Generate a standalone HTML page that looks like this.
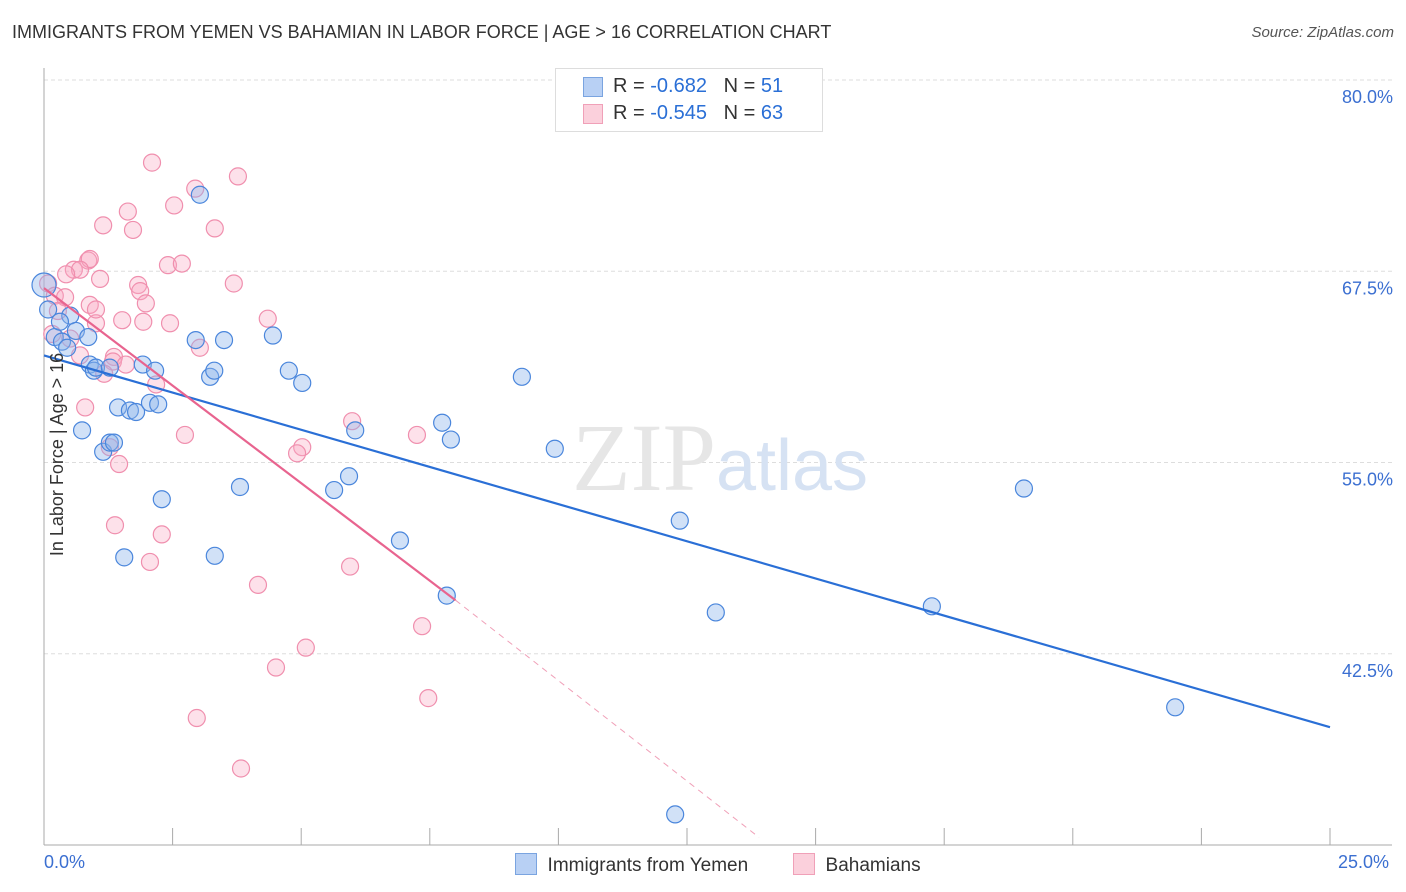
<!DOCTYPE html>
<html><head><meta charset="utf-8"><style>
body{margin:0;background:#fff;font-family:"Liberation Sans",sans-serif;}
#wrap{position:relative;width:1406px;height:892px;overflow:hidden;}
.t{position:absolute;white-space:nowrap;}
</style></head><body>
<div id="wrap">
<div class="t" style="left:12px;top:22px;font-size:18px;color:#333;">IMMIGRANTS FROM YEMEN VS BAHAMIAN IN LABOR FORCE | AGE &gt; 16 CORRELATION CHART</div>
<div class="t" style="right:12px;top:24px;font-size:15px;color:#555;font-style:italic;">Source: ZipAtlas.com</div>
<svg id="plot" width="1406" height="892" style="position:absolute;left:0;top:0"></svg>
</div>
<script>
const yemenX=[0,0.21,0.35,0.45,0.51,0.62,0.74,0.89,0.97,1.01,1.15,1.28,1.36,1.44,1.56,1.67,1.79,1.92,2.06,2.16,2.22,2.29,2.95,3.03,3.23,3.31,3.32,3.81,4.45,4.76,5.02,5.64,5.93,6.05,6.92,7.74,7.83,7.91,9.29,9.93,12.36,13.06,17.26,19.05,21.99,12.27,3.5,1.28,0.31,0.86,0.08];
const yemenY=[66.6,63.2,62.9,62.5,64.6,63.6,57.1,61.4,61.0,61.2,55.7,56.3,56.3,58.6,48.8,58.4,58.3,61.4,58.9,61.0,58.8,52.6,63.0,72.5,60.6,61.0,48.9,53.4,63.3,61.0,60.2,53.2,54.1,57.1,49.9,57.6,46.3,56.5,60.6,55.9,51.2,45.2,45.6,53.3,39.0,32.0,63.0,61.2,64.2,63.2,65.0];
const bahX=[2.10,3.77,2.94,2.53,1.63,1.15,3.32,1.73,2.41,2.68,0.86,0.89,0.58,0.70,1.09,0.43,3.69,1.83,1.87,0.08,0.21,0.41,0.89,1.98,1.52,1.93,1.01,2.45,4.35,0.27,3.03,1.36,1.34,1.59,1.17,2.18,0.80,5.99,2.74,7.25,5.02,4.92,1.46,1.38,2.29,2.06,5.95,4.16,7.35,5.09,4.51,7.47,2.97,3.83,0.70,0.16,0.51,1.28,1.01];
const bahY=[74.6,73.7,72.9,71.8,71.4,70.5,70.3,70.2,67.9,68.0,68.2,68.3,67.6,67.6,67.0,67.3,66.7,66.6,66.2,66.7,65.9,65.8,65.3,65.4,64.3,64.2,64.1,64.1,64.4,64.9,62.5,61.9,61.6,61.4,60.8,60.1,58.6,57.7,56.8,56.8,56.0,55.6,54.9,50.9,50.3,48.5,48.2,47.0,44.3,42.9,41.6,39.6,38.3,35.0,62.0,63.4,63.1,56.0,65.0];
const yTicks=[80,67.5,55,42.5];
const yTickLabels=["80.0%","67.5%","55.0%","42.5%"];
const xTicks=[0,2.5,5,7.5,10,12.5,15,17.5,20,22.5,25];
const blueTrend=[[0,62.0],[25,37.7]];
const pinkTrend=[[0,66.4],[8,46.0]];
const pinkDash=[[8,46.0],[13.9,30.5]];
const NS="http://www.w3.org/2000/svg";
const svg=document.getElementById('plot');
const X=v=>44+v*51.44, Y=v=>80+(80-v)*15.3;
function mk(tag,a){const e=document.createElementNS(NS,tag);for(const k in a)e.setAttribute(k,a[k]);svg.appendChild(e);return e;}
yTicks.forEach((t,i)=>{
 const g=mk('line',{x1:44,x2:1392,y1:Y(t),y2:Y(t),stroke:'#ddd','stroke-dasharray':'4,3'});
 
 
 const l=mk('text',{x:1393,y:Y(t)+23,'text-anchor':'end','font-size':18,fill:'#3b6fd1','font-family':'Liberation Sans'});
 l.textContent=yTickLabels[i];
 
 
});
const ax=mk('line',{x1:44,x2:44,y1:68,y2:845,stroke:'#aaa'});


const bx=mk('line',{x1:44,x2:1392,y1:845,y2:845,stroke:'#aaa'});


xTicks.forEach(t=>{const k=mk('line',{x1:X(t),x2:X(t),y1:828,y2:845,stroke:'#aaa'});
 
 });
const wm=mk('text',{x:720,y:490,'text-anchor':'middle','font-size':96,fill:'#e6e6e6','font-family':'Liberation Serif'});
wm.innerHTML='ZIP<tspan fill="#d6e2f3" font-family="Liberation Sans" font-size="72">atlas</tspan>';


function dots(xs,ys,fill,stroke,name){xs.forEach((x,i)=>{const c=mk('circle',{cx:X(x),cy:Y(ys[i]),r:i===0&&name==='yemen-point'?12:8.5,fill:fill,stroke:stroke,'stroke-width':1.2});
 
 });}
dots(bahX,bahY,'rgba(248,170,195,0.35)','#f08fae','bahamian-point');
dots(yemenX,yemenY,'rgba(140,180,235,0.4)','#4a86dc','yemen-point');
const bl=mk('line',{x1:X(blueTrend[0][0]),y1:Y(blueTrend[0][1]),x2:X(blueTrend[1][0]),y2:Y(blueTrend[1][1]),stroke:'#2a6fd6','stroke-width':2.2});


const pl=mk('line',{x1:X(pinkTrend[0][0]),y1:Y(pinkTrend[0][1]),x2:X(pinkTrend[1][0]),y2:Y(pinkTrend[1][1]),stroke:'#e8648f','stroke-width':2.2});


const pd=mk('line',{x1:X(pinkDash[0][0]),y1:Y(pinkDash[0][1]),x2:X(pinkDash[1][0]),y2:Y(pinkDash[1][1]),stroke:'#f0a0b8','stroke-width':1,'stroke-dasharray':'6,5'});


</script>
<div class="t" style="left:-44px;top:444px;font-size:18px;color:#333;transform:rotate(-90deg);">In Labor Force | Age &gt; 16</div>
<div class="t" style="left:44px;top:852px;font-size:18px;color:#3b6fd1;">0.0%</div>
<div class="t" style="left:1338px;top:852px;font-size:18px;color:#3b6fd1;">25.0%</div>
<div style="position:absolute;left:555px;top:68px;width:266px;height:62px;border:1px solid #ddd;background:#fff;font-size:20px;">
 <div style="position:absolute;left:27px;top:8px;width:18px;height:18px;background:#b8d0f4;border:1px solid #7aa4e0;"></div>
 <div class="t" style="left:57px;top:6px;color:#333;">R = <span style="color:#2a6fd6">-0.682</span>&nbsp;&nbsp;&nbsp;N = <span style="color:#2a6fd6">51</span></div>
 <div style="position:absolute;left:27px;top:35px;width:18px;height:18px;background:#fbd0dc;border:1px solid #f0a0b8;"></div>
 <div class="t" style="left:57px;top:33px;color:#333;">R = <span style="color:#2a6fd6">-0.545</span>&nbsp;&nbsp;&nbsp;N = <span style="color:#2a6fd6">63</span></div>
</div>
<div style="position:absolute;left:515px;top:853px;font-size:19px;color:#333;">
 <span style="display:inline-block;width:20px;height:20px;background:#b8d0f4;border:1px solid #7aa4e0;vertical-align:-4px;"></span>&nbsp; Immigrants from Yemen</div>
<div style="position:absolute;left:793px;top:853px;font-size:19px;color:#333;">
 <span style="display:inline-block;width:20px;height:20px;background:#fbd0dc;border:1px solid #f0a0b8;vertical-align:-4px;"></span>&nbsp; Bahamians</div>
</body></html>
